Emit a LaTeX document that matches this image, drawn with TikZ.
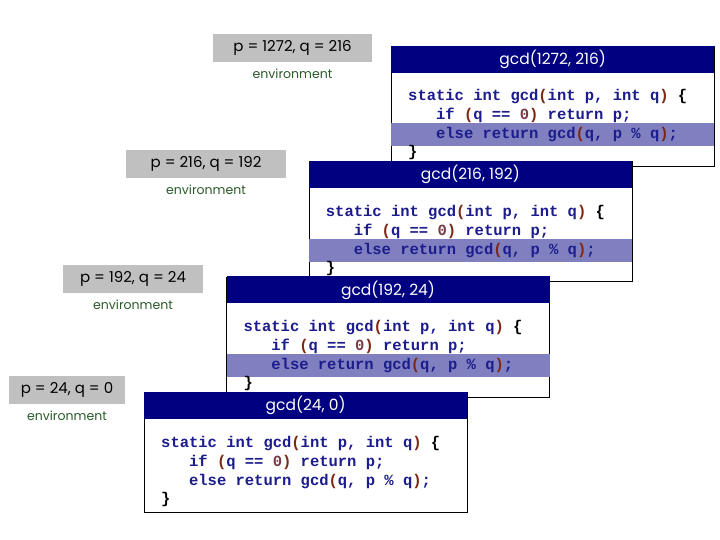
\documentclass[tikz,border=0pt]{standalone}
\usepackage{fontspec}
\setmonofont{Liberation Mono}
\newfontfamily\handfont{Poppins}
\usetikzlibrary{positioning}
\definecolor{navy}{RGB}{0,0,128}
\definecolor{hilite}{RGB}{128,128,192}
\definecolor{envgray}{RGB}{192,192,192}
\definecolor{envgreen}{RGB}{40,90,40}
\definecolor{kwblue}{RGB}{28,28,140}
\definecolor{parbrown}{RGB}{125,40,20}
\definecolor{numbrown}{RGB}{120,60,70}
\newcommand\ckw[1]{\textcolor{kwblue}{#1}}
\newcommand\cpar[1]{\textcolor{parbrown}{#1}}
\newcommand\cnum[1]{\textcolor{numbrown}{#1}}
\tikzset{
  envbox/.style={fill=envgray, minimum height=28pt, inner sep=0pt,
    font=\handfont\fontsize{15}{17}\selectfont},
  envlabel/.style={text=envgreen, inner sep=1pt,
    font=\handfont\fontsize{12.5}{14}\selectfont},
  gcdframe/.style={draw=black, line width=1pt, fill=white, anchor=north west,
    minimum width=323pt, minimum height=120pt, inner sep=0pt},
  titlebar/.style={fill=navy, text=white, anchor=north west,
    minimum width=323pt, minimum height=27pt, inner sep=0pt,
    font=\handfont\fontsize{15.5}{17}\selectfont},
  hlbar/.style={fill=hilite, anchor=north west,
    minimum width=323pt, minimum height=23pt, inner sep=0pt},
  codeline/.style={anchor=base west, inner sep=0pt,
    font=\ttfamily\bfseries\fontsize{15.5}{19}\selectfont},
}
\begin{document}
\begin{tikzpicture}[x=1pt,y=-1pt]
  \useasboundingbox (0,0) rectangle (720,540);
  % environments
  \foreach \i/\cx/\ty/\w/\p/\q in {1/292.5/34/159/1272/216, 2/206/150/160/216/192,
      3/133/265/140/192/24, 4/67/376/116/24/0}{
    \node[envbox, minimum width=\w pt, anchor=north] (env\i) at (\cx,\ty) {p = \p, q = \q};
    \node[envlabel, below=5pt of env\i] (lbl\i) {environment};
  }
  % call frames
  \foreach \i/\fx/\fy/\p/\q in {1/391/46/1272/216, 2/308.7/161.3/216/192,
      3/226.3/276.7/192/24, 4/144/392/24/0}{
    \node[gcdframe] (f\i) at (\fx,\fy) {};
    \node[titlebar] (t\i) at ([yshift=0.5pt]f\i.north west) {gcd(\p, \q)};
    \ifnum\i<4 \node[hlbar] (h\i) at ([yshift=-77pt]f\i.north west) {}; \fi
    \node[codeline] (a\i) at ([shift={(17pt,-55pt)}]f\i.north west)
      {\ckw{static int gcd}\cpar{(}\ckw{int p, int q}\cpar{)} \{};
    \node[codeline] (b\i) at ([shift={(17pt,-74pt)}]f\i.north west)
      {\phantom{xxx}\ckw{if} \cpar{(}\ckw{q ==} \cnum{0}\cpar{)} \ckw{return p;}};
    \node[codeline] (c\i) at ([shift={(17pt,-93pt)}]f\i.north west)
      {\phantom{xxx}\ckw{else return gcd}\cpar{(}\ckw{q, p \% q}\cpar{)}\ckw{;}};
    \node[codeline] (d\i) at ([shift={(17pt,-111pt)}]f\i.north west) {\}};
  }
\end{tikzpicture}
\end{document}
